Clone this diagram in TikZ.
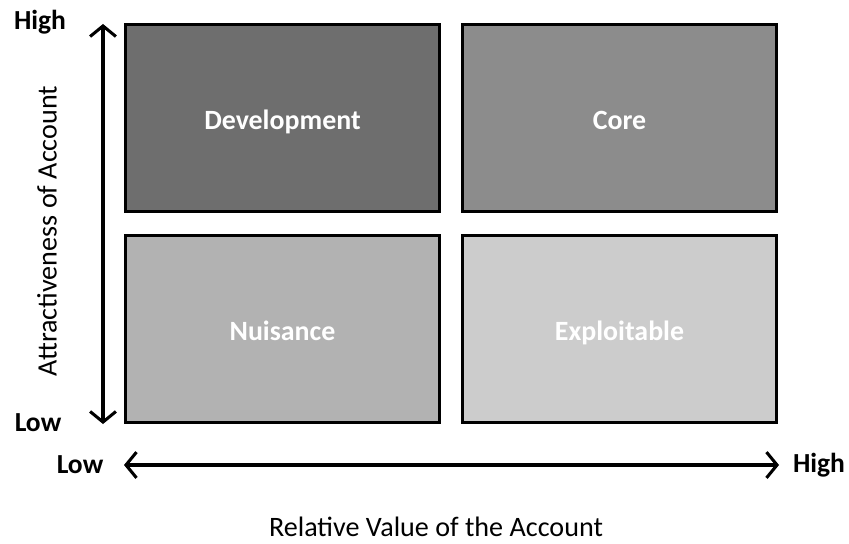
\documentclass[tikz,border=0pt]{standalone}
\usepackage{fontspec}
\setmainfont{Carlito}
\usetikzlibrary{arrows.meta}
\begin{document}
\begin{tikzpicture}[x=0.03cm,y=-0.03cm]
    \tikzset{quad/.style={draw=black,line width=2.6pt,minimum width=9.42cm,
               minimum height=5.62cm,inner sep=0pt,text=white,
               text height=19pt,text depth=0pt,
               font=\fontsize{23.8}{28}\selectfont\bfseries},
             tag/.style={inner sep=0pt,font=\fontsize{23.5}{28}\selectfont\bfseries},
             axis/.style={line width=2.6pt,{Straight Barb[length=9pt,width=22pt,line width=2.6pt]}-{Straight Barb[length=9pt,width=22pt,line width=2.6pt]}}}
    \useasboundingbox (0,0) rectangle (849,544);
    \node[quad,fill=black!57](dev)at(282.5,118){Development};
    \node[quad,fill=black!45](core)at(619.5,118){Core};
    \node[quad,fill=black!30](nuis)at(282.5,329){Nuisance};
    \node[quad,fill=black!20](expl)at(619.5,329){Exploitable};
    \node[tag](yhigh)at(40,22){High};
    \node[tag](ylow)at(38,423){Low};
    \node[tag](xlow)at(80,465){Low};
    \node[tag](xhigh)at(819,465){High};
    \node[inner sep=0pt,rotate=90,font=\fontsize{24}{28}\selectfont](ylab)at(47,231){Attractiveness of Account};
    \node[inner sep=0pt,font=\fontsize{24}{28}\selectfont](xlab)at(436,527){Relative Value of the Account};
    \coordinate(ytop)at(103,24);
    \coordinate(ybot)at(103,424);
    \coordinate(xleft)at(124,465);
    \coordinate(xright)at(779,465);
    \draw[axis](ybot)--(ytop);
    \draw[axis](xleft)--(xright);
\end{tikzpicture}
\end{document}
